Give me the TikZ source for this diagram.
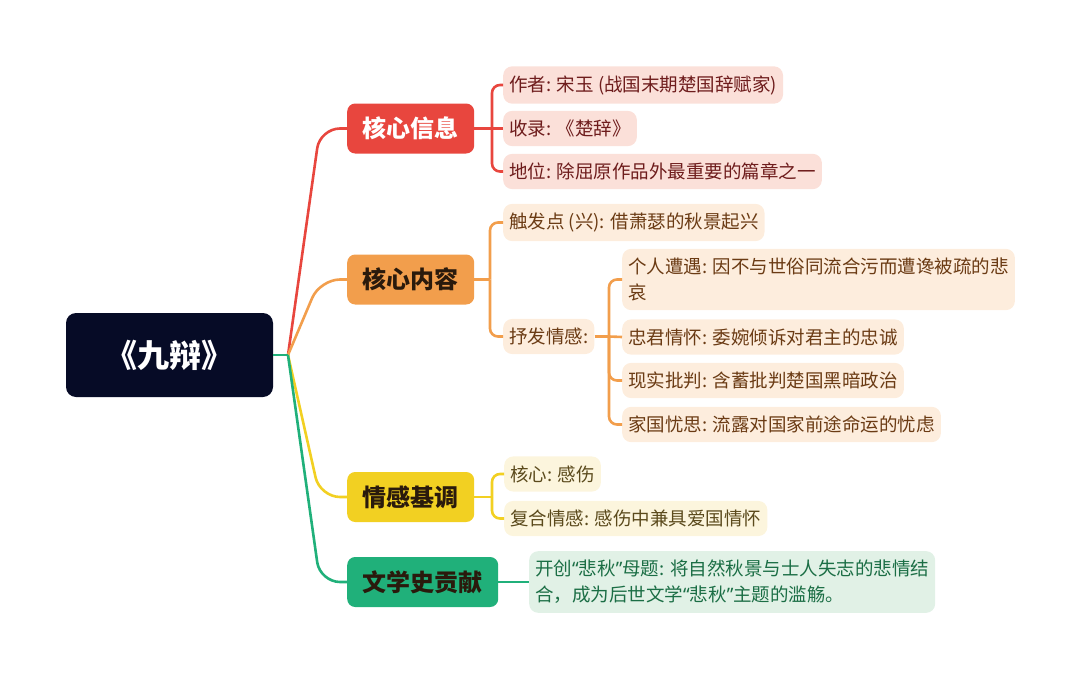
\documentclass[tikz,border=0pt]{standalone}
\usepackage{fontspec}
\setmainfont{Noto Sans CJK SC}
\newfontfamily\latinq{Noto Sans}
\newcommand{\myLQ}{{\latinq “}}
\newcommand{\myRQ}{{\latinq ”}}
\definecolor{rootc}{HTML}{060B26}
\definecolor{redc}{HTML}{E8463E}
\definecolor{orac}{HTML}{F29E4C}
\definecolor{yelc}{HTML}{F2D022}
\definecolor{grnc}{HTML}{20B07A}
\definecolor{redl}{HTML}{FBE0D9}
\definecolor{oral}{HTML}{FDEDDD}
\definecolor{yell}{HTML}{FCF5DD}
\definecolor{grnl}{HTML}{E1F1E6}
\definecolor{redt}{HTML}{6E1C1C}
\definecolor{orat}{HTML}{6B3B14}
\definecolor{yelt}{HTML}{5B4A1C}
\definecolor{grnt}{HTML}{1B6E45}
\definecolor{darkt}{HTML}{2A1A0C}
\tikzset{
  rootbox/.style={fill=rootc, text=white, rounded corners=10pt, minimum width=207pt, minimum height=84pt,
    font=\fontsize{32}{36}\selectfont\bfseries, inner sep=0pt},
  mainbox/.style={rounded corners=8pt, minimum height=50pt, inner xsep=15.5pt, inner ysep=0pt, anchor=west,
    font=\fontsize{24}{28}\selectfont\bfseries},
  leafbox/.style={rounded corners=9pt, inner xsep=6pt, inner ysep=9pt, anchor=west, align=left,
    font=\fontsize{18.5}{26}\selectfont},
  conn/.style={line width=2.6pt},
  brk/.style={line width=2.6pt, rounded corners=8pt},
}
\begin{document}
\begin{tikzpicture}[x=1pt,y=-1pt]
\useasboundingbox (0,0) rectangle (1080,680);
% nodes
\node[rootbox] (root) at (169.5,355) {《九辩》};
\coordinate (J) at (288,355);
\node[mainbox, fill=redc, text=white] (b1) at (347,128.5) {核心信息};
\node[mainbox, fill=orac, text=darkt] (b2) at (347,279.5) {核心内容};
\node[mainbox, fill=yelc, text=darkt] (b3) at (347,497) {情感基调};
\node[mainbox, fill=grnc, text=darkt] (b4) at (347,582) {文学史贡献};

\node[leafbox, fill=redl, text=redt] (l1a) at (503,85) {作者: 宋玉 (战国末期楚国辞赋家)};
\node[leafbox, fill=redl, text=redt] (l1b) at (503,128.5) {收录: 《楚辞》};
\node[leafbox, fill=redl, text=redt] (l1c) at (503,171.5) {地位: 除屈原作品外最重要的篇章之一};

\node[leafbox, fill=oral, text=orat] (l2a) at (503,222.5) {触发点 (兴): 借萧瑟的秋景起兴};
\node[leafbox, fill=oral, text=orat] (l2b) at (503,336.5) {抒发情感:};
\node[leafbox, fill=oral, text=orat] (s1) at (622,279.5) {个人遭遇: 因不与世俗同流合污而遭谗被疏的悲\\哀};
\node[leafbox, fill=oral, text=orat] (s2) at (622,337) {忠君情怀: 委婉倾诉对君主的忠诚};
\node[leafbox, fill=oral, text=orat] (s3) at (622,380.5) {现实批判: 含蓄批判楚国黑暗政治};
\node[leafbox, fill=oral, text=orat] (s4) at (622,424.5) {家国忧思: 流露对国家前途命运的忧虑};

\node[leafbox, fill=yell, text=yelt] (l3a) at (504,474) {核心: 感伤};
\node[leafbox, fill=yell, text=yelt] (l3b) at (504,518.5) {复合情感: 感伤中兼具爱国情怀};

\node[leafbox, fill=grnl, text=grnt] (l4) at (529,582) {开创\myLQ 悲秋\myRQ 母题: 将自然秋景与士人失志的悲情结\\合，成为后世文学\myLQ 悲秋\myRQ 主题的滥觞。};

% root connectors
\draw[conn, redc, rounded corners=20pt] (J) -- (320,128.5) -- (b1.west);
\draw[conn, orac, rounded corners=20pt] (J) -- (320,279.5) -- (b2.west);
\draw[conn, yelc, rounded corners=20pt] (J) -- (320,497) -- (b3.west);
\draw[conn, grnc, rounded corners=20pt] (J) -- (320,582) -- (b4.west);
\draw[conn, grnc] (root.east |- J) -- (J);

% branch 1
\coordinate (k1) at (492,128.5);
\draw[conn, redc] (b1.east) -- (k1);
\draw[brk, redc] (k1) |- (l1a.west);
\draw[brk, redc] (k1) -- (l1b.west);
\draw[brk, redc] (k1) |- (l1c.west);

% branch 2
\coordinate (k2) at (490,279.5);
\draw[conn, orac] (b2.east) -- (k2);
\draw[brk, orac] (k2) |- (l2a.west);
\draw[brk, orac] (k2) |- (l2b.west);
\coordinate (k2b) at (609,336.5);
\draw[conn, orac] (l2b.east) -- (k2b);
\draw[brk, orac] (k2b) |- (s1.west);
\draw[brk, orac] (k2b) -- (s2.west);
\draw[brk, orac] (k2b) |- (s3.west);
\draw[brk, orac] (k2b) |- (s4.west);

% branch 3
\coordinate (k3) at (492,497);
\draw[conn, yelc] (b3.east) -- (k3);
\draw[brk, yelc] (k3) |- (l3a.west);
\draw[brk, yelc] (k3) |- (l3b.west);

% branch 4
\draw[conn, grnc] (b4.east) -- (l4.west);
\end{tikzpicture}
\end{document}
